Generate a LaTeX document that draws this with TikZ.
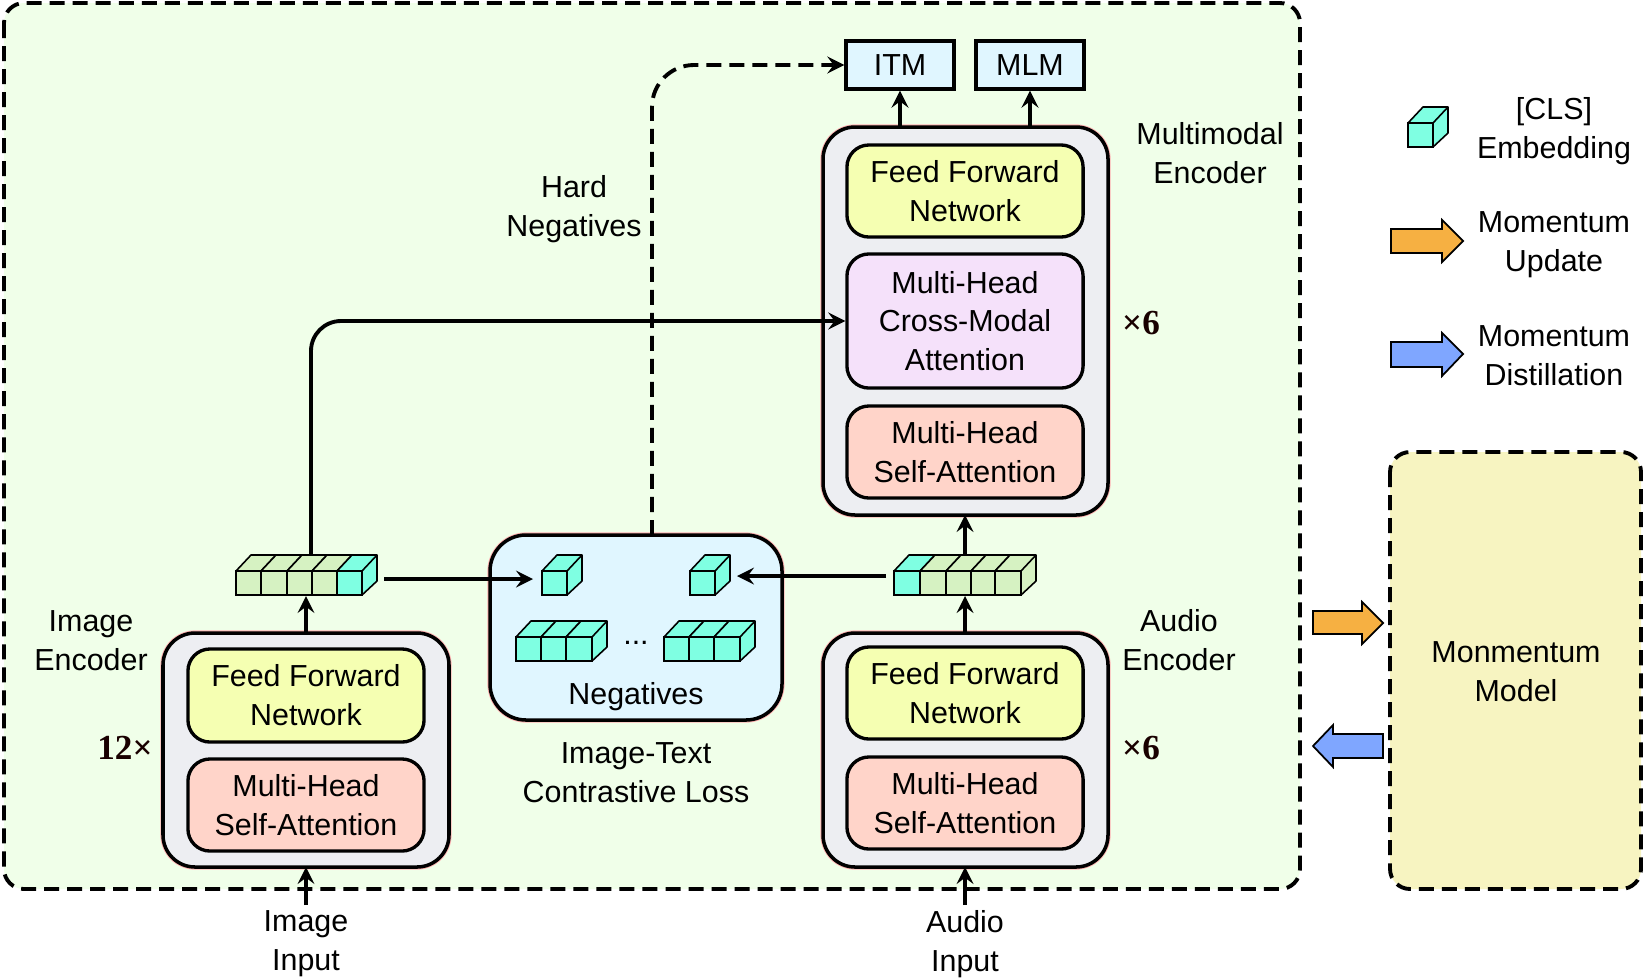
\documentclass[tikz,border=0pt]{standalone}
\usepackage{fontspec}
\setmainfont{Liberation Sans}
\newfontfamily\timesfont{Liberation Serif}
\definecolor{panelgreen}{HTML}{F0FFE9}
\definecolor{panelyellow}{HTML}{F7F4C1}
\definecolor{encgray}{HTML}{EDEEF2}
\definecolor{fnyellow}{HTML}{F5FFB2}
\definecolor{sared}{HTML}{FFD4C9}
\definecolor{cmpurple}{HTML}{F5E1FA}
\definecolor{skyblue}{HTML}{E0F6FF}
\definecolor{cellcyan}{HTML}{7FFFE2}
\definecolor{cellgreen}{HTML}{D6F2C2}
\definecolor{arroworange}{HTML}{F6B042}
\definecolor{arrowblue}{HTML}{7FA6FF}
\tikzset{
  lbl/.style={align=center,font=\fontsize{8.65}{11.05}\selectfont,inner sep=0pt},
  times/.style={font=\timesfont\bfseries\fontsize{10}{11}\selectfont,text=black!90!red,inner sep=0pt},
  panel/.style={draw,line width=1.1pt,dash pattern=on .15cm off .08cm,rounded corners=.2cm},
  encbox/.style={draw=black,fill=encgray,line width=1pt,rounded corners=.32cm,preaction={draw=red!30,line width=1.5pt}},
  block/.style={draw,lbl,line width=.95pt,rounded corners=.22cm,minimum width=2.36cm},
  head/.style={draw,lbl,fill=skyblue,line width=.95pt,minimum width=1.08cm,minimum height=.48cm},
  link/.style={->,line width=1.1pt},
  bigarrow/.style={draw,line width=.5pt,line join=miter}
}
% one cell of a token strip: left, right, top of the front face, colour
\newcommand{\cell}[4]{
  \filldraw[fill=#4,line width=.45pt,line join=round] (#1,#3) -- ++(15,-16) -- (#2+15,#3-16) -- (#2+15,#3+10) -- (#2,#3+24) -- (#2,#3) -- cycle;
  \draw[line width=.45pt] (#2,#3) -- ++(15,-16);
  \filldraw[fill=#4,line width=.45pt] (#1,#3) rectangle (#2,#3+24);
}
\begin{document}
\begin{tikzpicture}[x=.01cm,y=-.01cm,>=stealth,line cap=butt]
\useasboundingbox (0,0) rectangle (1646,978);
% panels
\path[panel,fill=panelgreen] (4,3) rectangle (1300,889);
\path[panel,fill=panelyellow] (1390,452) rectangle (1641,889);
% encoders
\path[encbox] (163,633) rectangle (449,867);
\path[encbox] (823,633) rectangle (1108,867);
\path[encbox] (823,127) rectangle (1108,515);
\path[encbox,fill=skyblue,rounded corners=.36cm] (490,535) rectangle (782,720);
\coordinate (imgEncTop) at (306,633);
\coordinate (imgEncBot) at (306,867);
\coordinate (audEncTop) at (965,633);
\coordinate (audEncBot) at (965,867);
\coordinate (mmTop) at (965,127);
\coordinate (mmBot) at (965,515);
\coordinate (negTop) at (652,535);
% blocks
\node[block,fill=fnyellow,minimum height=.93cm] (imgFF) at (306,695.5) {Feed Forward\\Network};
\node[block,fill=sared,minimum height=.92cm] (imgSA) at (306,805) {Multi-Head\\Self-Attention};
\node[block,fill=fnyellow,minimum height=.92cm] (audFF) at (965,693) {Feed Forward\\Network};
\node[block,fill=sared,minimum height=.92cm] (audSA) at (965,803) {Multi-Head\\Self-Attention};
\node[block,fill=fnyellow,minimum height=.92cm] (mmFF) at (965,191) {Feed Forward\\Network};
\node[block,fill=cmpurple,minimum height=1.34cm] (mmCA) at (965,321) {Multi-Head\\Cross-Modal\\Attention};
\node[block,fill=sared,minimum height=.92cm] (mmSA) at (965,452) {Multi-Head\\Self-Attention};
\node[head] (itm) at (900,65) {ITM};
\node[head] (mlm) at (1030,65) {MLM};
% token strips
\foreach \a/\b in {236/261,261/287,287/312,312/337}
  \cell{\a}{\b}{571}{cellgreen};
\cell{337}{362}{571}{cellcyan};
\cell{894}{920}{571}{cellcyan};
\foreach \a/\b in {920/946,946/971,971/995,995/1021}
  \cell{\a}{\b}{571}{cellgreen};
% negatives
\cell{542}{567}{571}{cellcyan};
\cell{690}{715}{571}{cellcyan};
\foreach \a/\b in {516/541,541/566,566/592,664/689,689/714,714/740}
  \cell{\a}{\b}{637}{cellcyan};
\cell{1408}{1433}{123}{cellcyan};
\coordinate (imgStripBot) at (306,596);
\coordinate (imgStripTop) at (311,555);
\coordinate (imgStripR) at (384,579);
\coordinate (audStripBot) at (965,596);
\coordinate (audStripTop) at (965,555);
\coordinate (audStripL) at (886,576);
\coordinate (cubeL) at (533,579);
\coordinate (cubeR) at (737,576);
\coordinate (imgIn) at (306,905);
\coordinate (audIn) at (965,905);
% connectors
\draw[link] (imgIn) -- (imgEncBot);
\draw[link] (audIn) -- (audEncBot);
\draw[link] (imgEncTop) -- (imgStripBot);
\draw[link] (audEncTop) -- (audStripBot);
\draw[link] (audStripTop) -- (mmBot);
\draw[link] (imgStripR) -- (cubeL);
\draw[link] (audStripL) -- (cubeR);
\draw[link] (mmTop -| itm) -- (itm);
\draw[link] (mmTop -| mlm) -- (mlm);
\draw[link,dash pattern=on .15cm off .08cm,rounded corners=.42cm] (negTop) |- (itm);
\draw[link,rounded corners=.3cm] (imgStripTop) |- (mmCA);
% block arrows
\path[bigarrow,fill=arroworange] (1391,229) -- (1442,229) -- (1442,220) -- (1463,241) -- (1442,262) -- (1442,253) -- (1391,253) -- cycle;
\path[bigarrow,fill=arrowblue] (1391,342) -- (1442,342) -- (1442,333) -- (1463,354) -- (1442,376) -- (1442,367) -- (1391,367) -- cycle;
\path[bigarrow,fill=arroworange] (1313,611) -- (1362,611) -- (1362,602) -- (1383,623) -- (1362,644) -- (1362,634) -- (1313,634) -- cycle;
\path[bigarrow,fill=arrowblue] (1383,734) -- (1333,734) -- (1333,725) -- (1313,746) -- (1333,767) -- (1333,758) -- (1383,758) -- cycle;
% labels
\node[lbl] (imgEncLbl) at (91,641) {Image\\Encoder};
\node[lbl] (audEncLbl) at (1179,640) {Audio\\Encoder};
\node[lbl] (mmLbl) at (1210,153) {Multimodal\\Encoder};
\node[lbl] (hardLbl) at (574,209) {Hard\\Negatives};
\node[lbl] (imgInLbl) at (306,944) {Image\\Input};
\node[lbl] (audInLbl) at (965,944) {Audio\\Input};
\node[lbl] (negLbl) at (636,697) {Negatives};
\node[lbl] (dots) at (636,643) {...};
\node[lbl] (lossLbl) at (636,773) {Image-Text\\Contrastive Loss};
\node[lbl] (cmomLbl) at (1516,672) {Monmentum\\Model};
\node[lbl] (clsLbl) at (1554,131) {[CLS]\\Embedding};
\node[lbl] (updLbl) at (1554,245) {Momentum\\Update};
\node[lbl] (distLbl) at (1554,356) {Momentum\\Distillation};
\node[times] (imgTimes) at (125,748) {12×};
\node[times] (audTimes) at (1141,748) {×6};
\node[times] (mmTimes) at (1141,323) {×6};
\end{tikzpicture}
\end{document}
